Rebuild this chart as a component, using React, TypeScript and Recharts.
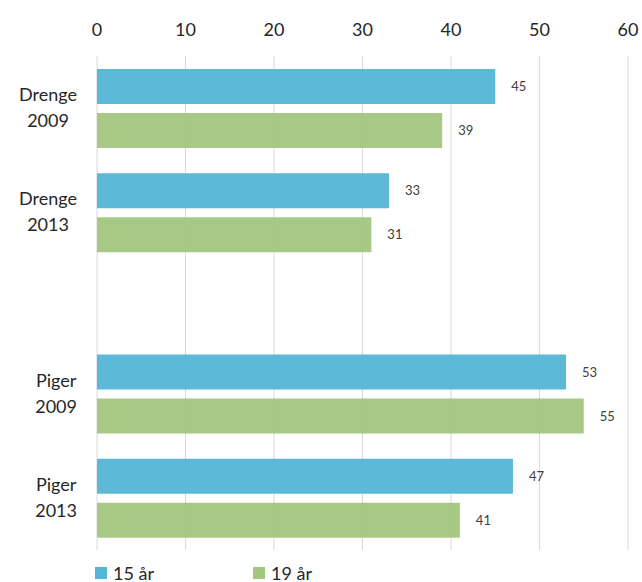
import React from 'react';
import { BarChart, Bar, XAxis, YAxis, CartesianGrid, Legend, LabelList } from 'recharts';

const groups = ['Drenge 2009', 'Drenge 2013', 'Piger 2009', 'Piger 2013'];
const age15 = [45, 33, 53, 47];
const age19 = [39, 31, 55, 41];
const xTicks = [0, 10, 20, 30, 40, 50, 60];

// extra space (in rows) between the boys' and the girls' block
const SECTION_GAP = 0.74;
const FONT = 'Lato, "Open Sans", sans-serif';

const rowPos = groups.map((_, i) => i + (i >= 2 ? SECTION_GAP : 0));

const data = groups.map((g, i) => ({
  group: g,
  row: rowPos[i],
  a15: age15[i],
  a19: age19[i],
}));

let ctx: CanvasRenderingContext2D | null = null;
function textWidth(s: string, size: number) {
  if (!ctx) ctx = document.createElement('canvas').getContext('2d');
  if (!ctx) return s.length * size * 0.5;
  ctx.font = `${size}px Lato`;
  return ctx.measureText(s).width;
}

function GroupTick(props: any) {
  const { y, payload } = props;
  const idx = rowPos.indexOf(payload.value);
  if (idx < 0) return null;
  const lines = groups[idx].split(' ');
  const block = Math.max(...lines.map(l => textWidth(l, 18)));
  const cx = 77 - block / 2;
  return (
    <g>
      {lines.map((l, i) => (
        <text key={i} x={cx} y={y - 7 + i * 26} textAnchor="middle" fontSize={18} fill="#262626" fontFamily={FONT}>
          {l}
        </text>
      ))}
    </g>
  );
}

function LegendBox(props: any) {
  const { payload } = props;
  return (
    <div style={{ height: 32, position: 'relative', fontFamily: FONT }}>
      {(payload || []).map((p: any, i: number) => (
        <div
          key={p.value}
          style={{ position: 'absolute', left: 95 + i * 158, top: 13, display: 'flex', alignItems: 'center' }}
        >
          <span style={{ width: 12, height: 12, background: p.color, display: 'inline-block', marginRight: 6 }} />
          <span style={{ fontSize: 18, color: '#262626', lineHeight: '20px' }}>{p.value}</span>
        </div>
      ))}
    </div>
  );
}

export default function App() {
  return (
    <div style={{ position: 'absolute', left: 0, top: 0, background: '#fff' }}>
      <BarChart
        width={642}
        height={582}
        data={data}
        layout="vertical"
        margin={{ top: 0, right: 14, left: 0, bottom: 0 }}
        barSize={35}
        barGap={9}
      >
        <CartesianGrid horizontal={false} stroke="#d9d9d9" strokeWidth={1} />
        <XAxis
          type="number"
          orientation="top"
          domain={[0, 60]}
          ticks={xTicks}
          interval={0}
          height={56}
          axisLine={false}
          tickLine={false}
          tickMargin={14}
          tick={{ fill: '#262626', fontSize: 18, fontFamily: FONT }}
        />
        <YAxis
          type="number"
          dataKey="row"
          domain={[-0.5, 3 + SECTION_GAP + 0.5]}
          ticks={rowPos}
          interval={0}
          width={97}
          axisLine={false}
          tickLine={false}
          tick={<GroupTick />}
        />
        <Legend verticalAlign="bottom" align="left" content={<LegendBox />} />
        <Bar dataKey="a15" name="15 år" fill="#55b5d7" fillOpacity={0.95} isAnimationActive={false}>
          <LabelList dataKey="a15" position="right" offset={16} fill="#404040" fontSize={13} fontFamily={FONT} />
        </Bar>
        <Bar dataKey="a19" name="19 år" fill="#a3c67f" fillOpacity={0.95} isAnimationActive={false}>
          <LabelList dataKey="a19" position="right" offset={16} fill="#404040" fontSize={13} fontFamily={FONT} />
        </Bar>
      </BarChart>
    </div>
  );
}
